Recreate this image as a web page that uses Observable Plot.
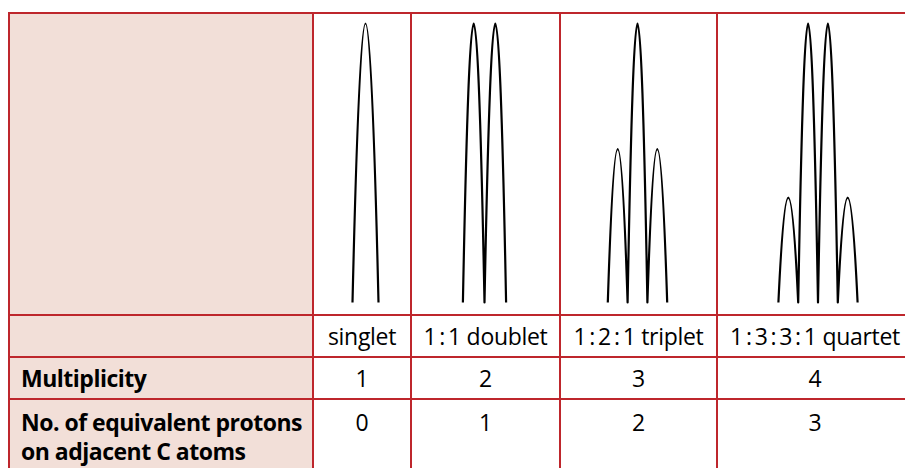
<!DOCTYPE html>
<html>
<head>
<meta charset="utf-8">
<script src="https://cdn.jsdelivr.net/npm/d3@7"></script>
<script src="https://cdn.jsdelivr.net/npm/@observablehq/plot@0.6"></script>
<style>
  html, body { margin: 0; padding: 0; background: #fff; overflow: hidden; width: 905px; height: 468px; }
  #table {
    position: absolute; left: 8px; top: 12px;
    display: grid;
    grid-template-columns: 304px 98px 149px 157px 196px;
    grid-template-rows: 302px 42px 42px 80px;
    border-top: 2px solid #be262c; border-left: 2px solid #be262c;
    font-family: "Open Sans", sans-serif; font-size: 23px; letter-spacing: -0.3px; color: #000;
  }
  #table > div {
    box-sizing: border-box;
    border-right: 2px solid #be262c; border-bottom: 2px solid #be262c;
    overflow: hidden; white-space: nowrap;
  }
  #table > div.head { background: #f2dfd8; font-weight: 700; letter-spacing: -0.5px; }
  #table > div.mid { display: flex; align-items: center; line-height: 30px; }
  #table > div.mid.val { justify-content: center; }
  #table > div.mid.head { padding-left: 11px; }
  #table > div.last { line-height: 29px; padding-top: 8px; }
  #table > div.last.val { text-align: center; }
  #table > div.last.head { padding-left: 11px; }
  .c { padding: 0 3px; }
  svg { display: block; }
</style>
</head>
<body>
<div id="table"></div>
<script>
// ---- data ----
const multipletNames = ["singlet", "1:1 doublet", "1:2:1 triplet", "1:3:3:1 quartet"];
const multiplicity = [1, 2, 3, 4];
const adjacentProtons = [0, 1, 2, 3];
const rowLabels = ["Multiplicity", "No. of equivalent protons\non adjacent C atoms"];
// peak positions (in units of ~J/2) and relative intensities for each multiplet
const peakOffsets = [[0], [-1.08, 1.08], [-1.98, 0, 1.98], [-2.97, -0.99, 0.99, 2.97]];
const peakHeights = [[1], [1, 1], [0.55, 1, 0.55], [0.376, 1, 1, 0.376]];
const peakHalfWidths = [1.3, 1.08, 0.99, 0.99];

// ---- layout (not data) ----
const layout = {
  cellWidths: [96, 147, 155, 194],
  cellHeight: 300,
  nudge: [3, -1.5, -1.5, 2.5],
  pxPerUnit: 10
};

// parabolic-arc curve: each segment is a quadratic whose control point is at the
// segment's horizontal midpoint and the level of its higher end (a parabola vertex)
function parabolaCurve(context) {
  let pts = [];
  return {
    areaStart() {}, areaEnd() {},
    lineStart() { pts = []; },
    point(x, y) { pts.push([+x, +y]); },
    lineEnd() {
      pts.forEach((p, i) => {
        if (i === 0) context.moveTo(p[0], p[1]);
        else {
          const q = pts[i - 1];
          context.quadraticCurveTo((q[0] + p[0]) / 2, Math.min(q[1], p[1]), p[0], p[1]);
        }
      });
    }
  };
}

function multipletPoints(i) {
  const pts = [];
  const w = peakHalfWidths[i];
  peakOffsets[i].forEach((c, j) => {
    const left = c - w;
    const last = pts[pts.length - 1];
    if (!last || Math.abs(last.x - left) > 1e-9) pts.push({x: left, y: 0});
    pts.push({x: c, y: peakHeights[i][j]});
    pts.push({x: c + w, y: 0});
  });
  return pts;
}

const table = document.getElementById("table");
function cell(cls, content) {
  const d = document.createElement("div");
  d.className = cls;
  if (content instanceof Node) d.appendChild(content);
  else if (content != null) d.innerHTML = content;
  table.appendChild(d);
  return d;
}
function fmtName(s) {
  return s.replace(/:/g, '<span class="c">:</span>');
}

// row 1: spectra
cell("head", null);
multipletNames.forEach((name, i) => {
  const W = layout.cellWidths[i];
  const cx = W / 2 + layout.nudge[i];
  const svg = Plot.plot({
    width: W, height: layout.cellHeight,
    marginLeft: 0, marginRight: 0, marginTop: 9, marginBottom: 12,
    axis: null,
    x: {domain: [-cx / layout.pxPerUnit, (W - cx) / layout.pxPerUnit], range: [0, W]},
    y: {domain: [0, 1]},
    style: {background: "transparent", overflow: "visible"},
    marks: [
      Plot.line(multipletPoints(i), {
        x: "x", y: "y", curve: parabolaCurve,
        stroke: "#000", strokeWidth: 2.2,
        strokeLinecap: "butt", strokeLinejoin: "round"
      })
    ]
  });
  cell("plot", svg);
});

// row 2: names
cell("head mid", "");
multipletNames.forEach(n => cell("mid val", fmtName(n)));
// row 3: multiplicity
cell("head mid", rowLabels[0]);
multiplicity.forEach(v => cell("mid val", String(v)));
// row 4: adjacent protons
cell("head last", rowLabels[1].replace("\n", "<br>"));
adjacentProtons.forEach(v => cell("last val", String(v)));
</script>
</body>
</html>
